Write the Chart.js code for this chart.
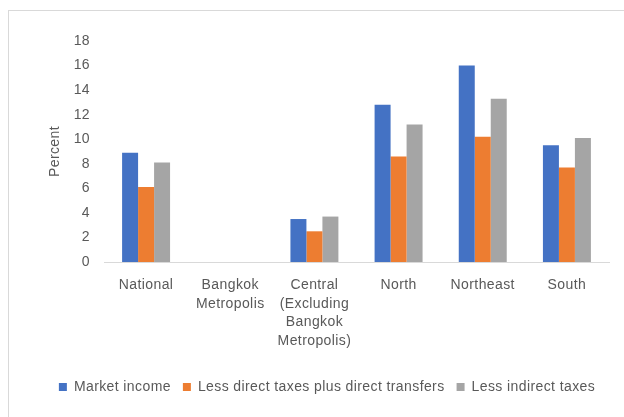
<!DOCTYPE html>
<html><head><meta charset="utf-8">
<script src="https://cdn.jsdelivr.net/npm/chart.js@4.4.0/dist/chart.umd.min.js"></script>
<style>
html,body{margin:0;padding:0;background:#fff;overflow:hidden;}
#wrap{position:absolute;left:0;top:0;width:624px;height:417px;}
#frame{position:absolute;left:8px;top:10px;width:640px;height:420px;border:1px solid #d9d9d9;box-sizing:border-box;pointer-events:none;}
</style></head>
<body>
<div id="wrap"><canvas id="c" width="624" height="417"></canvas></div>
<div id="frame"></div>
<script>
const categories = ["National", ["Bangkok","Metropolis"], ["Central","(Excluding","Bangkok","Metropolis)"], "North", "Northeast", "South"];
const marketIncome = [8.9, null, 3.5, 12.8, 16.0, 9.5];
const lessDirect = [6.1, null, 2.5, 8.6, 10.2, 7.7];
const lessIndirect = [8.1, null, 3.7, 11.2, 13.3, 10.1];
const yTicks = [0, 2, 4, 6, 8, 10, 12, 14, 16, 18];
const seriesNames = ["Market income", "Less direct taxes plus direct transfers", "Less indirect taxes"];

const FONT = "'Liberation Sans', Arial, sans-serif";
const TXT = '#595959';
const spacing = {
  id: 'spacing',
  beforeUpdate(c) { c.ctx.letterSpacing = '0.4px'; },
  beforeLayout(c) { c.ctx.letterSpacing = '0.4px'; },
  beforeDraw(c) { c.ctx.letterSpacing = '0.4px'; }
};
new Chart(document.getElementById('c'), {
  type: 'bar',
  plugins: [spacing],
  data: {
    labels: categories,
    datasets: [
      {label: seriesNames[0], data: marketIncome, backgroundColor: '#4472C4'},
      {label: seriesNames[1], data: lessDirect, backgroundColor: '#ED7D31'},
      {label: seriesNames[2], data: lessIndirect, backgroundColor: '#A5A5A5'}
    ]
  },
  options: {
    responsive: false,
    animation: false,
    devicePixelRatio: 1,
    datasets: {bar: {categoryPercentage: 0.57, barPercentage: 1.0}},
    layout: {padding: {left: 45, right: 15, top: 41, bottom: 13}},
    plugins: {
      legend: {
        position: 'bottom',
        labels: {boxWidth: 8, boxHeight: 8, color: TXT, font: {family: FONT, size: 14}, padding: 12}
      },
      tooltip: {enabled: false}
    },
    scales: {
      x: {
        grid: {display: false},
        border: {display: true, color: '#d9d9d9', width: 1},
        ticks: {color: TXT, font: {family: FONT, size: 14, lineHeight: 1.32}, maxRotation: 0, autoSkip: false, padding: 6},
        afterFit: s => { s.height = 106; }
      },
      y: {
        min: 0, max: 18,
        afterBuildTicks: s => { s.ticks = yTicks.map(v => ({value: v})); },
        grid: {display: false},
        border: {display: false},
        ticks: {color: TXT, font: {family: FONT, size: 14}, padding: 6},
        title: {display: true, text: 'Percent', color: TXT, font: {family: FONT, size: 14}, padding: {top: 2, bottom: 2}},
        afterFit: s => { s.width = 59; }
      }
    }
  }
});
</script>
</body></html>
